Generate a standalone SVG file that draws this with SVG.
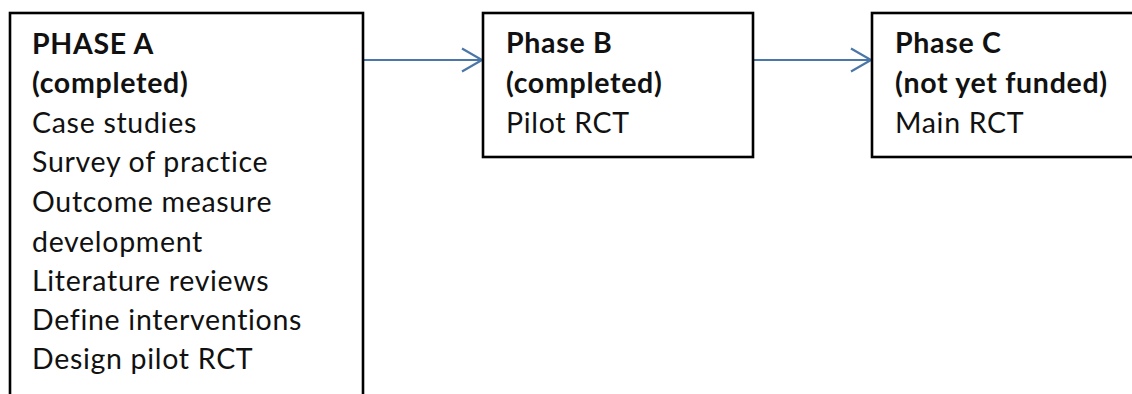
<svg xmlns="http://www.w3.org/2000/svg" width="1132" height="394" viewBox="0 0 1132 394">
<style>
.box{fill:#fff;stroke:#000;stroke-width:2.6}
.t{font-family:Lato,"Open Sans","Liberation Sans",sans-serif;font-size:28.5px;letter-spacing:0.7px;fill:#111;font-variant-ligatures:none}
.b{font-weight:bold}
.c{fill:none;stroke:#4a77a8;stroke-width:2.2}
</style>
<rect width="1132" height="394" fill="#fff"/>
<g id="connectors">
<line class="c" x1="363" y1="60" x2="482" y2="60"/>
<polyline class="c" points="462,48.5 482,60 462,71.5"/>
<line class="c" x1="753" y1="60" x2="871" y2="60"/>
<polyline class="c" points="851,48.5 871,60 851,71.5"/>
</g>
<g id="phaseA">
<rect class="box" x="10" y="13" width="353" height="390"/>
<text class="t b" x="32" y="54">PHASE A</text>
<text class="t b" x="32" y="93">(completed)</text>
<text class="t" x="32" y="133">Case studies</text>
<text class="t" x="32" y="172">Survey of practice</text>
<text class="t" x="32" y="212">Outcome measure</text>
<text class="t" x="32" y="252">development</text>
<text class="t" x="32" y="291">Literature reviews</text>
<text class="t" x="32" y="330">Define interventions</text>
<text class="t" x="32" y="369">Design pilot RCT</text>
</g>
<g id="phaseB">
<rect class="box" x="483" y="13" width="270" height="144"/>
<text class="t b" x="506" y="53">Phase B</text>
<text class="t b" x="506" y="93">(completed)</text>
<text class="t" x="506" y="133">Pilot RCT</text>
</g>
<g id="phaseC">
<rect class="box" x="872" y="13" width="270" height="144"/>
<text class="t b" x="895" y="53">Phase C</text>
<text class="t b" x="895" y="93">(not yet funded)</text>
<text class="t" x="895" y="133">Main RCT</text>
</g>
</svg>
